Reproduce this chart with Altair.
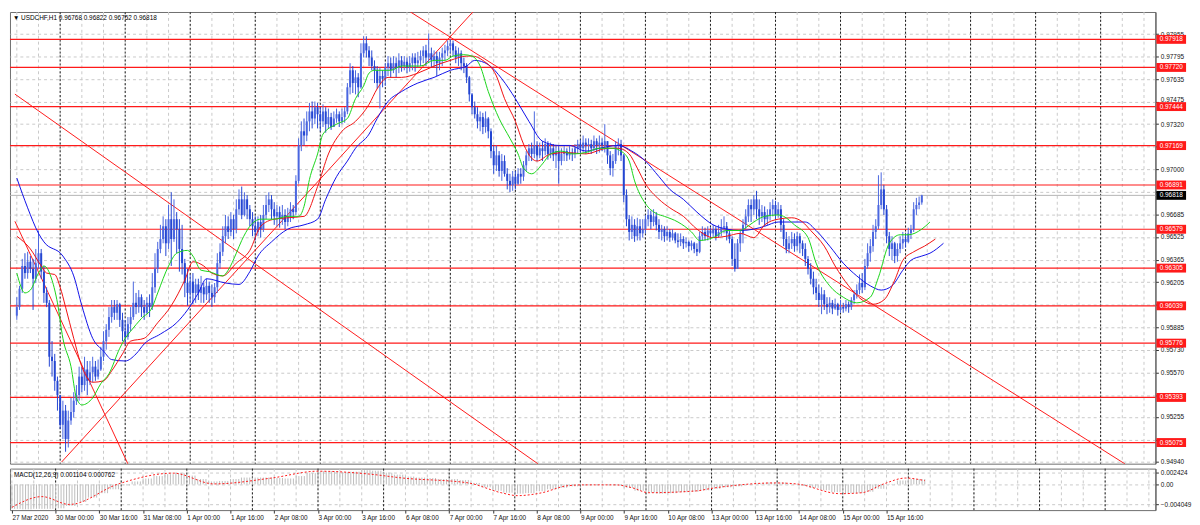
import altair as alt
import pandas as pd

# ---------------- data ----------------
first_open = 0.9597
closes = [
0.9603,0.9616,0.9632,0.9627,0.9635,0.9630,0.9623,0.9634,0.9641,0.9628,
0.9613,0.9606,0.9568,0.9565,0.9551,0.9541,0.9520,0.9530,0.9510,0.9523,
0.9529,0.9537,0.9541,0.9554,0.9548,0.9559,0.9551,0.9557,0.9561,0.9554,
0.9559,0.9568,0.9579,0.9587,0.9596,0.9603,0.9599,0.9605,0.9594,0.9586,
0.9582,0.9591,0.9596,0.9606,0.9603,0.9610,0.9603,0.9599,0.9606,0.9603,
0.9617,0.9630,0.9644,0.9651,0.9660,0.9648,0.9665,0.9651,0.9665,0.9658,
0.9644,0.9634,0.9620,0.9613,0.9621,0.9613,0.9619,0.9613,0.9617,0.9612,
0.9618,0.9613,0.9610,0.9617,0.9634,0.9642,0.9653,0.9660,0.9656,0.9665,
0.9658,0.9672,0.9679,0.9668,0.9679,0.9672,0.9665,0.9660,0.9656,0.9663,
0.9658,0.9668,0.9675,0.9679,0.9672,0.9667,0.9670,0.9665,0.9668,0.9663,
0.9667,0.9672,0.9670,0.9692,0.9717,0.9727,0.9724,0.9734,0.9741,0.9736,
0.9744,0.9739,0.9734,0.9741,0.9732,0.9737,0.9730,0.9736,0.9739,0.9734,
0.9737,0.9741,0.9758,0.9770,0.9761,0.9765,0.9758,0.9782,0.9789,0.9784,
0.9779,0.9773,0.9770,0.9761,0.9766,0.9764,0.9772,0.9775,0.9770,0.9775,
0.9772,0.9777,0.9773,0.9776,0.9772,0.9775,0.9779,0.9775,0.9777,0.9780,
0.9784,0.9779,0.9782,0.9777,0.9780,0.9775,0.9779,0.9782,0.9784,0.9787,
0.9789,0.9784,0.9779,0.9782,0.9775,0.9773,0.9765,0.9753,0.9744,0.9739,
0.9734,0.9737,0.9730,0.9736,0.9727,0.9713,0.9703,0.9710,0.9699,0.9706,
0.9697,0.9692,0.9689,0.9695,0.9690,0.9697,0.9695,0.9703,0.9710,0.9715,
0.9711,0.9717,0.9710,0.9715,0.9713,0.9718,0.9711,0.9715,0.9710,0.9713,
0.9706,0.9711,0.9713,0.9710,0.9712,0.9711,0.9715,0.9718,0.9715,0.9719,
0.9717,0.9718,0.9715,0.9720,0.9717,0.9719,0.9717,0.9720,0.9710,0.9701,
0.9706,0.9717,0.9718,0.9710,0.9682,0.9665,0.9656,0.9661,0.9653,0.9660,
0.9655,0.9658,0.9665,0.9668,0.9663,0.9667,0.9661,0.9656,0.9658,0.9653,
0.9656,0.9652,0.9655,0.9650,0.9649,0.9651,0.9648,0.9649,0.9646,0.9648,
0.9644,0.9642,0.9653,0.9656,0.9653,0.9657,0.9655,0.9658,0.9653,0.9656,
0.9659,0.9660,0.9655,0.9651,0.9637,0.9630,0.9648,0.9655,0.9661,0.9667,
0.9675,0.9672,0.9679,0.9672,0.9667,0.9670,0.9665,0.9668,0.9672,0.9675,
0.9668,0.9672,0.9661,0.9651,0.9644,0.9648,0.9651,0.9646,0.9653,0.9648,
0.9644,0.9637,0.9630,0.9623,0.9617,0.9613,0.9608,0.9612,0.9605,0.9603,
0.9606,0.9602,0.9605,0.9601,0.9603,0.9602,0.9605,0.9603,0.9608,0.9612,
0.9615,0.9620,0.9617,0.9632,0.9641,0.9646,0.9656,0.9660,0.9675,0.9686,
0.9672,0.9653,0.9644,0.9648,0.9639,0.9644,0.9648,0.9651,0.9649,0.9655,
0.9658,0.9672,0.9675,0.96768,0.96818]
highs = [
0.9610,0.9618,0.9637,0.9641,0.9642,0.9639,0.9637,0.9644,0.9657,0.9644,
0.9632,0.9617,0.9608,0.9579,0.9570,0.9554,0.9534,0.9537,0.9534,0.9530,
0.9539,0.9543,0.9548,0.9561,0.9561,0.9568,0.9565,0.9565,0.9568,0.9565,
0.9566,0.9575,0.9586,0.9591,0.9603,0.9608,0.9608,0.9608,0.9606,0.9599,
0.9594,0.9596,0.9603,0.9621,0.9613,0.9615,0.9612,0.9608,0.9610,0.9612,
0.9627,0.9641,0.9649,0.9661,0.9667,0.9665,0.9675,0.9684,0.9679,0.9670,
0.9665,0.9661,0.9637,0.9630,0.9626,0.9627,0.9623,0.9623,0.9625,0.9620,
0.9623,0.9621,0.9619,0.9620,0.9641,0.9648,0.9660,0.9668,0.9667,0.9670,
0.9668,0.9679,0.9686,0.9688,0.9684,0.9682,0.9675,0.9670,0.9667,0.9667,
0.9668,0.9675,0.9682,0.9684,0.9682,0.9677,0.9675,0.9674,0.9675,0.9672,
0.9673,0.9677,0.9675,0.9696,0.9722,0.9734,0.9736,0.9741,0.9747,0.9748,
0.9748,0.9747,0.9744,0.9746,0.9744,0.9743,0.9740,0.9741,0.9743,0.9741,
0.9743,0.9744,0.9761,0.9775,0.9773,0.9770,0.9768,0.9789,0.9794,0.9794,
0.9787,0.9784,0.9777,0.9773,0.9772,0.9770,0.9775,0.9780,0.9779,0.9780,
0.9779,0.9782,0.9780,0.9780,0.9779,0.9780,0.9782,0.9782,0.9783,0.9784,
0.9787,0.9788,0.9796,0.9786,0.9784,0.9783,0.9783,0.9786,0.9788,0.9791,
0.9792,0.9791,0.9787,0.9786,0.9784,0.9779,0.9775,0.9766,0.9754,0.9748,
0.9744,0.9741,0.9740,0.9741,0.9737,0.9729,0.9717,0.9717,0.9713,0.9711,
0.9710,0.9701,0.9697,0.9699,0.9699,0.9701,0.9701,0.9706,0.9713,0.9718,
0.9719,0.9741,0.9720,0.9719,0.9720,0.9722,0.9720,0.9719,0.9718,0.9717,
0.9717,0.9715,0.9717,0.9715,0.9717,0.9715,0.9718,0.9721,0.9721,0.9724,
0.9722,0.9722,0.9721,0.9724,0.9722,0.9724,0.9722,0.9732,0.9720,0.9713,
0.9711,0.9720,0.9722,0.9721,0.9711,0.9686,0.9668,0.9667,0.9665,0.9666,
0.9665,0.9665,0.9668,0.9672,0.9671,0.9672,0.9670,0.9665,0.9661,0.9660,
0.9660,0.9658,0.9658,0.9656,0.9655,0.9655,0.9653,0.9652,0.9650,0.9650,
0.9649,0.9648,0.9656,0.9660,0.9659,0.9660,0.9659,0.9661,0.9660,0.9661,
0.9665,0.9667,0.9663,0.9657,0.9653,0.9648,0.9651,0.9658,0.9665,0.9672,
0.9679,0.9679,0.9682,0.9685,0.9679,0.9675,0.9674,0.9672,0.9677,0.9679,
0.9678,0.9677,0.9675,0.9665,0.9656,0.9653,0.9656,0.9655,0.9656,0.9655,
0.9650,0.9648,0.9639,0.9634,0.9628,0.9623,0.9619,0.9617,0.9615,0.9610,
0.9610,0.9608,0.9609,0.9606,0.9608,0.9606,0.9608,0.9607,0.9610,0.9615,
0.9619,0.9626,0.9627,0.9637,0.9648,0.9651,0.9661,0.9665,0.9696,0.9698,
0.9689,0.9675,0.9656,0.9653,0.9649,0.9648,0.9653,0.9656,0.9655,0.9659,
0.9661,0.9677,0.9680,0.9681,0.96822]
lows = [
0.9594,0.9601,0.9613,0.9623,0.9623,0.9627,0.9601,0.9620,0.9630,0.9623,
0.9606,0.9603,0.9561,0.9554,0.9544,0.9530,0.9517,0.9510,0.9501,0.9504,
0.9520,0.9525,0.9534,0.9537,0.9543,0.9544,0.9541,0.9548,0.9550,0.9551,
0.9552,0.9558,0.9565,0.9573,0.9582,0.9592,0.9594,0.9594,0.9589,0.9579,
0.9577,0.9580,0.9586,0.9594,0.9598,0.9599,0.9596,0.9594,0.9598,0.9596,
0.9601,0.9613,0.9627,0.9641,0.9648,0.9639,0.9644,0.9632,0.9649,0.9641,
0.9628,0.9626,0.9610,0.9604,0.9606,0.9605,0.9606,0.9608,0.9606,0.9606,
0.9608,0.9606,0.9603,0.9606,0.9613,0.9630,0.9639,0.9648,0.9651,0.9653,
0.9651,0.9655,0.9668,0.9665,0.9667,0.9665,0.9660,0.9653,0.9650,0.9653,
0.9652,0.9656,0.9665,0.9670,0.9665,0.9661,0.9660,0.9659,0.9661,0.9658,
0.9660,0.9663,0.9665,0.9668,0.9690,0.9713,0.9717,0.9720,0.9727,0.9729,
0.9732,0.9729,0.9727,0.9730,0.9726,0.9729,0.9728,0.9732,0.9733,0.9730,
0.9732,0.9733,0.9739,0.9753,0.9754,0.9753,0.9751,0.9757,0.9779,0.9779,
0.9773,0.9770,0.9761,0.9757,0.9743,0.9758,0.9759,0.9766,0.9765,0.9768,
0.9765,0.9768,0.9769,0.9770,0.9768,0.9769,0.9770,0.9769,0.9772,0.9773,
0.9775,0.9773,0.9775,0.9772,0.9772,0.9766,0.9770,0.9773,0.9777,0.9780,
0.9782,0.9780,0.9775,0.9773,0.9770,0.9768,0.9761,0.9748,0.9739,0.9736,
0.9729,0.9727,0.9725,0.9726,0.9722,0.9708,0.9697,0.9699,0.9695,0.9692,
0.9695,0.9686,0.9684,0.9685,0.9686,0.9689,0.9690,0.9692,0.9699,0.9706,
0.9706,0.9708,0.9706,0.9708,0.9706,0.9710,0.9707,0.9708,0.9706,0.9701,
0.9690,0.9703,0.9706,0.9706,0.9707,0.9706,0.9708,0.9711,0.9711,0.9712,
0.9711,0.9712,0.9711,0.9713,0.9711,0.9712,0.9713,0.9712,0.9704,0.9696,
0.9695,0.9704,0.9710,0.9706,0.9677,0.9660,0.9650,0.9651,0.9649,0.9650,
0.9650,0.9652,0.9655,0.9660,0.9658,0.9660,0.9657,0.9651,0.9650,0.9649,
0.9650,0.9649,0.9650,0.9648,0.9645,0.9646,0.9644,0.9645,0.9642,0.9643,
0.9641,0.9639,0.9641,0.9650,0.9650,0.9650,0.9651,0.9652,0.9650,0.9652,
0.9653,0.9655,0.9650,0.9648,0.9632,0.9628,0.9630,0.9642,0.9648,0.9658,
0.9663,0.9663,0.9668,0.9665,0.9661,0.9663,0.9660,0.9661,0.9664,0.9667,
0.9665,0.9666,0.9656,0.9646,0.9641,0.9641,0.9644,0.9642,0.9643,0.9641,
0.9639,0.9632,0.9626,0.9619,0.9612,0.9608,0.9603,0.9598,0.9601,0.9598,
0.9599,0.9598,0.9601,0.9597,0.9599,0.9599,0.9600,0.9599,0.9601,0.9605,
0.9609,0.9612,0.9613,0.9615,0.9630,0.9635,0.9642,0.9651,0.9658,0.9672,
0.9668,0.9648,0.9639,0.9636,0.9634,0.9635,0.9641,0.9644,0.9645,0.9648,
0.9651,0.9656,0.9668,0.9672,0.96752]

# Alligator-style moving averages (bar index, value)
blue_bars = [0,4,8,10,17,21,24,28,32,35,40,44,47,53,59,63,67,70,77,82,86,89,94,100,106,111,114,118,122,125,
             130,133,137,142,148,154,160,166,169,174,179,184,189,194,200,204,210,215,222,227,232,237,241,246,251,
             257,262,267,272,276,281,286,291,295,300,305,310,315,319,323,327,330,334,337,342]
blue_vals = [0.9694,0.9673,0.9655,0.9649,0.9639,0.9625,0.9604,0.9581,0.9572,0.9566,0.9565,0.9570,0.9577,0.9584,0.9592,
             0.9601,0.9613,0.9623,0.9620,0.9619,0.9628,0.9639,0.9649,0.9658,0.9661,0.9665,0.9679,0.9695,0.9706,0.9715,
             0.9725,0.9736,0.9748,0.9755,0.9761,0.9765,0.9770,0.9773,0.9777,0.9774,0.9764,0.9750,0.9734,0.9720,0.9717,
             0.9717,0.9713,0.9715,0.9717,0.9713,0.9706,0.9695,0.9686,0.9679,0.9670,0.9661,0.9658,0.9657,0.9658,0.9660,
             0.9663,0.9663,0.9663,0.9657,0.9646,0.9634,0.9625,0.9618,0.9615,0.9618,0.9629,0.9636,0.9639,0.9641,0.9648]
red_bars = [0,5,9,11,14,16,18,21,24,28,32,35,39,42,47,52,57,62,65,69,72,76,81,86,90,95,100,106,111,115,
            120,125,130,133,137,142,148,154,160,166,168,172,177,180,184,187,190,192,197,203,210,218,222,226,229,
            232,237,241,246,251,257,262,267,272,276,281,286,290,293,298,302,307,312,316,320,324,327,331,335,339]
red_vals = [0.9653,0.9644,0.9632,0.9627,0.9626,0.9617,0.9603,0.9581,0.9561,0.9550,0.9551,0.9558,0.9570,0.9579,0.9581,
            0.9592,0.9604,0.9622,0.9635,0.9632,0.9627,0.9625,0.9634,0.9643,0.9660,0.9665,0.9666,0.9667,0.9688,0.9711,
            0.9727,0.9734,0.9746,0.9757,0.9765,0.9765,0.9768,0.9773,0.9777,0.9780,0.9780,0.9777,0.9766,0.9750,0.9734,
            0.9718,0.9708,0.9706,0.9711,0.9712,0.9711,0.9715,0.9715,0.9711,0.9701,0.9690,0.9679,0.9673,0.9667,0.9658,
            0.9652,0.9653,0.9655,0.9652,0.9661,0.9665,0.9666,0.9663,0.9657,0.9646,0.9632,0.9618,0.9608,0.9605,0.9608,
            0.9622,0.9636,0.9642,0.9646,0.9651]
green_bars = [0,3,5,8,10,13,15,17,20,22,24,28,31,34,38,40,42,46,50,52,56,59,63,65,68,71,76,78,81,83,
              86,90,95,100,104,106,108,111,113,118,122,125,128,130,132,138,142,149,154,158,161,165,168,171,174,
              178,182,185,187,190,194,197,201,205,210,215,220,223,226,228,232,236,239,244,249,252,257,262,267,269,
              272,276,281,283,287,292,295,300,305,310,315,318,322,326,329,334,337]
green_vals = [0.9627,0.9613,0.9615,0.9627,0.9632,0.9622,0.9606,0.9581,0.9561,0.9539,0.9534,0.9539,0.9549,0.9556,0.9574,
              0.9581,0.9586,0.9595,0.9603,0.9613,0.9632,0.9641,0.9643,0.9639,0.9629,0.9628,0.9625,0.9629,0.9641,0.9650,
              0.9660,0.9665,0.9665,0.9667,0.9667,0.9674,0.9693,0.9711,0.9725,0.9732,0.9736,0.9750,0.9759,0.9768,0.9770,
              0.9770,0.9773,0.9773,0.9777,0.9777,0.9780,0.9781,0.9780,0.9773,0.9755,0.9736,0.9722,0.9711,0.9701,0.9697,
              0.9704,0.9711,0.9713,0.9711,0.9712,0.9715,0.9715,0.9713,0.9706,0.9692,0.9676,0.9669,0.9667,0.9663,0.9656,
              0.9650,0.9652,0.9657,0.9657,0.9659,0.9663,0.9667,0.9668,0.9667,0.9661,0.9652,0.9634,0.9618,0.9610,0.9606,
              0.9610,0.9624,0.9648,0.9654,0.9654,0.9658,0.9663]

# trend lines: id, bar, price
trend_id = ["a", "a", "b", "b", "c", "c", "d", "d"]
trend_bar = [-0.7, 192.4, -0.7, 41.0, 16.5, 168.3, 145.3, 409.0]
trend_price = [0.97532, 0.94924, 0.96635, 0.94924, 0.94937, 0.98111, 0.98111, 0.94924]

# horizontal levels
levels = [0.97918, 0.97720, 0.97444, 0.97169, 0.96891, 0.96579, 0.96305, 0.96039, 0.95776, 0.95393, 0.95075]
bid = 0.96818
price_ticks = [0.94940, 0.95095, 0.95255, 0.95410, 0.95570, 0.95730, 0.95885, 0.96045, 0.96205, 0.96365,
               0.96525, 0.96685, 0.96840, 0.97000, 0.97160, 0.97320, 0.97475, 0.97635, 0.97795, 0.97955]
# scale labels that sit fully under a price tag in the reference
covered_ticks = ["0.95095", "0.95410", "0.96045", "0.96840", "0.97160"]

# MACD main (one value per 4 bars) and signal
macd_main = [-0.0050,-0.0051,-0.0050,-0.0050,-0.0049,-0.0044,-0.0036,-0.0027,-0.0018,-0.0010,
             -0.0002,0.0006,0.0012,0.0017,0.0021,0.0023,0.0018,0.0011,0.0006,0.0007,
             0.0011,0.0014,0.0014,0.0014,0.0013,0.0012,0.0017,0.0023,0.0027,0.0027,
             0.0025,0.0026,0.0029,0.0028,0.0024,0.0020,0.0016,0.0014,0.0013,0.0011,
             0.0011,0.0009,0.0003,-0.0006,-0.0013,-0.0017,-0.0019,-0.0018,-0.0014,-0.0010,
             -0.0007,-0.0004,-0.0002,-0.0001,-0.0001,-0.0002,-0.0007,-0.0013,-0.0017,-0.0019,
             -0.0018,-0.0016,-0.0015,-0.0012,-0.0009,-0.0006,-0.0004,-0.0001,0.0002,0.0004,
             0.0004,0.0001,-0.0003,-0.0007,-0.0012,-0.0016,-0.0018,-0.0018,-0.0015,-0.0009,
             0.0001,0.0008,0.0011,0.0011]
sig_bars = [0,11,21,39,59,74,95,112,131,143,167,179,185,194,203,209,221,227,233,251,255,263,279,287,303,311,319,327,334]
sig_vals = [-0.0047,-0.0025,-0.0041,0.0001,0.0023,0.0001,0.0013,0.0027,0.0021,0.0013,0.0003,-0.0017,-0.0023,-0.0017,
            -0.0003,-0.0001,-0.0001,-0.0007,-0.0017,-0.0013,-0.0009,-0.0003,0.0003,0.0001,-0.0019,-0.0017,0.0001,0.0013,0.000762]

x_label_text = ["27 Mar 2020", "30 Mar 00:00", "30 Mar 16:00", "31 Mar 08:00", "1 Apr 00:00", "1 Apr 16:00",
                "2 Apr 08:00", "3 Apr 00:00", "3 Apr 16:00", "6 Apr 08:00", "7 Apr 00:00", "7 Apr 16:00",
                "8 Apr 08:00", "9 Apr 00:00", "9 Apr 16:00", "10 Apr 08:00", "13 Apr 00:00", "13 Apr 16:00",
                "14 Apr 08:00", "15 Apr 00:00", "15 Apr 16:00"]
x_label_bars = list(range(0, 321, 16))
day_starts = [16, 40, 64, 88, 112, 136, 160, 184, 208, 232, 256, 280, 304, 328, 352, 376, 400]
grid_bars = list(range(0, 417, 8))

title_text = "\u25bc USDCHF,H1  0.96768 0.96822 0.96752 0.96818"
macd_text = "MACD(12,26,9) 0.001104 0.000762"

# ---------------- frames ----------------
n = len(closes)
opens = [first_open] + closes[:-1]
candles = pd.DataFrame({"i": list(range(n)), "open": opens, "high": highs, "low": lows, "close": closes})
candles["dir"] = ["up" if c >= o else "down" for o, c in zip(opens, closes)]
macd_df = pd.DataFrame({"i": list(range(n)), "m": [macd_main[k // 4] for k in range(n)]})
sig_df = pd.DataFrame({"i": sig_bars, "s": sig_vals})
blue_df = pd.DataFrame({"i": blue_bars, "v": blue_vals})
red_df = pd.DataFrame({"i": red_bars, "v": red_vals})
green_df = pd.DataFrame({"i": green_bars, "v": green_vals})
trend_df = pd.DataFrame({"id": trend_id, "i": trend_bar, "p": trend_price})
lvl_df = pd.DataFrame({"p": levels, "t": [f"{v:.5f}" for v in levels]})
bid_df = pd.DataFrame({"p": [bid], "t": [f"{bid:.5f}"]})
grid_df = pd.DataFrame({"g": grid_bars})
sep_df = pd.DataFrame({"s": day_starts})

# ---------------- chart ----------------
W, H1, H2 = 1159, 457, 42
FONT = "Liberation Sans"
FS = 6.5
RED = "#ff1a1a"
xs = alt.Scale(domain=[-0.7, 418.4], nice=False, zero=False)
ys = alt.Scale(domain=[0.94926, 0.98111], nice=False, zero=False)
ms = alt.Scale(domain=[-0.00526, 0.00323], nice=False, zero=False)
TAG = "M-1,-0.3L1,-0.3L1,0.3L-1,0.3Z"

label_arr = "[" + ",".join("'" + s + "'" for s in x_label_text) + "]"
covered_arr = "[" + ",".join("'" + s + "'" for s in covered_ticks) + "]"

AX_Y_MAIN = alt.Axis(
    orient="right", values=price_ticks,
    labelExpr="indexof(" + covered_arr + ", format(datum.value, '.5f')) >= 0 ? '' : format(datum.value, '.5f')",
    labelOffset={"condition": {"test": "abs(datum.value - 0.97475) < 0.00001", "value": -3}, "value": 0},
    title=None, grid=True, gridColor="#c9c9c9", gridDash=[3, 3], tickSize=3, tickColor="#333",
    domain=True, domainColor="#555", labelFontSize=FS, labelFont=FONT, labelColor="#111",
    labelPadding=2, labelOverlap=False, labelFlush=False)
AX_Y_MACD = alt.Axis(
    orient="right", values=[0.002424, 0.0, -0.004049], title=None,
    labelExpr="datum.value == 0 ? '0.00' : format(datum.value, '.6f')",
    grid=True, gridColor="#c9c9c9", gridDash=[3, 3], tickSize=3, tickColor="#333",
    domain=True, domainColor="#555", labelFontSize=FS, labelFont=FONT, labelColor="#111",
    labelPadding=2, labelOverlap=False, labelFlush=False)
AX_X_MACD = alt.Axis(
    values=x_label_bars, labelExpr=label_arr + "[round(datum.value/16)]", title=None, grid=False,
    domain=False, tickSize=3, tickColor="#333", labelAlign="left", labelFontSize=FS, labelFont=FONT,
    labelColor="#111", labelPadding=1, labelFlush=False, labelOverlap=False)


def base_layers(xax):
    vgrid = alt.Chart(grid_df).mark_rule(color="#c9c9c9", strokeDash=[3, 3], strokeWidth=1).encode(
        x=alt.X("g:Q", scale=xs, axis=xax))
    seps = alt.Chart(sep_df).mark_rule(color="#1a1a1a", strokeDash=[2, 2], strokeWidth=1).encode(
        x=alt.X("s:Q", scale=xs, axis=xax))
    return vgrid, seps


# ---- main price panel (every layer carries the same axis definitions) ----
XM = None
vg_m, sep_m = base_layers(XM)
levels_l = alt.Chart(lvl_df).mark_rule(color=RED, strokeWidth=1.2).encode(
    y=alt.Y("p:Q", scale=ys, axis=AX_Y_MAIN))
bid_l = alt.Chart(bid_df).mark_rule(color="#b4b4b4", strokeWidth=1).encode(
    y=alt.Y("p:Q", scale=ys, axis=AX_Y_MAIN))
trend_l = alt.Chart(trend_df).mark_line(color=RED, strokeWidth=1, clip=True).encode(
    x=alt.X("i:Q", scale=xs, axis=XM), y=alt.Y("p:Q", scale=ys, axis=AX_Y_MAIN), detail="id:N")

wicks = alt.Chart(candles).mark_rule(strokeWidth=1).encode(
    x=alt.X("i:Q", scale=xs, axis=XM),
    y=alt.Y("low:Q", scale=ys, axis=AX_Y_MAIN), y2="high:Q",
    color=alt.Color("dir:N", scale=alt.Scale(domain=["up", "down"], range=["#4a66e0", "#2446d2"]), legend=None))
bodies = alt.Chart(candles).mark_bar(size=2).encode(
    x=alt.X("i:Q", scale=xs, axis=XM),
    y=alt.Y("open:Q", scale=ys, axis=AX_Y_MAIN), y2="close:Q",
    color=alt.Color("dir:N", scale=alt.Scale(domain=["up", "down"], range=["#9aaaf0", "#2446d2"]), legend=None))


def ma_line(df, col):
    return alt.Chart(df).mark_line(strokeWidth=1, interpolate="monotone", color=col).encode(
        x=alt.X("i:Q", scale=xs, axis=XM), y=alt.Y("v:Q", scale=ys, axis=AX_Y_MAIN))


blue_l = ma_line(blue_df, "#1010e8")
red_l = ma_line(red_df, "#f01010")
green_l = ma_line(green_df, "#19d419")

tags = alt.Chart(lvl_df).mark_point(shape=TAG, size=900, filled=True, color=RED, opacity=1, strokeWidth=0).encode(
    x=alt.value(W + 16), y=alt.Y("p:Q", scale=ys, axis=AX_Y_MAIN))
tag_txt = alt.Chart(lvl_df).mark_text(color="white", fontSize=FS, font=FONT, align="center", baseline="middle").encode(
    x=alt.value(W + 16), y=alt.Y("p:Q", scale=ys, axis=AX_Y_MAIN), text="t:N")
bid_tag = alt.Chart(bid_df).mark_point(shape=TAG, size=900, filled=True, color="#000", opacity=1, strokeWidth=0).encode(
    x=alt.value(W + 16), y=alt.Y("p:Q", scale=ys, axis=AX_Y_MAIN))
bid_txt = alt.Chart(bid_df).mark_text(color="white", fontSize=FS, font=FONT, align="center", baseline="middle").encode(
    x=alt.value(W + 16), y=alt.Y("p:Q", scale=ys, axis=AX_Y_MAIN), text="t:N")
title_l = alt.Chart(pd.DataFrame({"t": [title_text]})).mark_text(
    fontSize=FS, font=FONT, color="#000", align="left", baseline="middle").encode(
    x=alt.value(3), y=alt.value(6), text="t:N")

main = alt.layer(vg_m, sep_m, bid_l, levels_l, trend_l, wicks, bodies, blue_l, red_l, green_l,
                 tags, tag_txt, bid_tag, bid_txt, title_l).properties(width=W, height=H1)

# ---- MACD panel ----
vg_d, sep_d = base_layers(AX_X_MACD)
hist = alt.Chart(macd_df).mark_rule(color="#bdbdbd", strokeWidth=1).encode(
    x=alt.X("i:Q", scale=xs, axis=AX_X_MACD),
    y=alt.Y("m:Q", scale=ms, axis=AX_Y_MACD),
    y2=alt.Y2(datum=0))
sig = alt.Chart(sig_df).mark_line(color=RED, strokeDash=[2, 2], strokeWidth=1, interpolate="monotone").encode(
    x=alt.X("i:Q", scale=xs, axis=AX_X_MACD), y=alt.Y("s:Q", scale=ms, axis=AX_Y_MACD))
macd_l = alt.Chart(pd.DataFrame({"t": [macd_text]})).mark_text(
    fontSize=FS, font=FONT, color="#000", align="left", baseline="middle").encode(
    x=alt.value(4), y=alt.value(6), text="t:N")
macd = alt.layer(vg_d, sep_d, hist, sig, macd_l).properties(width=W, height=H2)

chart = alt.vconcat(main, macd, spacing=2).properties(
    padding={"left": 0, "right": 0, "top": 0, "bottom": 0}, background="white"
).configure_view(stroke="#6e6e6e", strokeWidth=1)

chart.save("out.html", embed_options={"renderer": "svg", "actions": False})
